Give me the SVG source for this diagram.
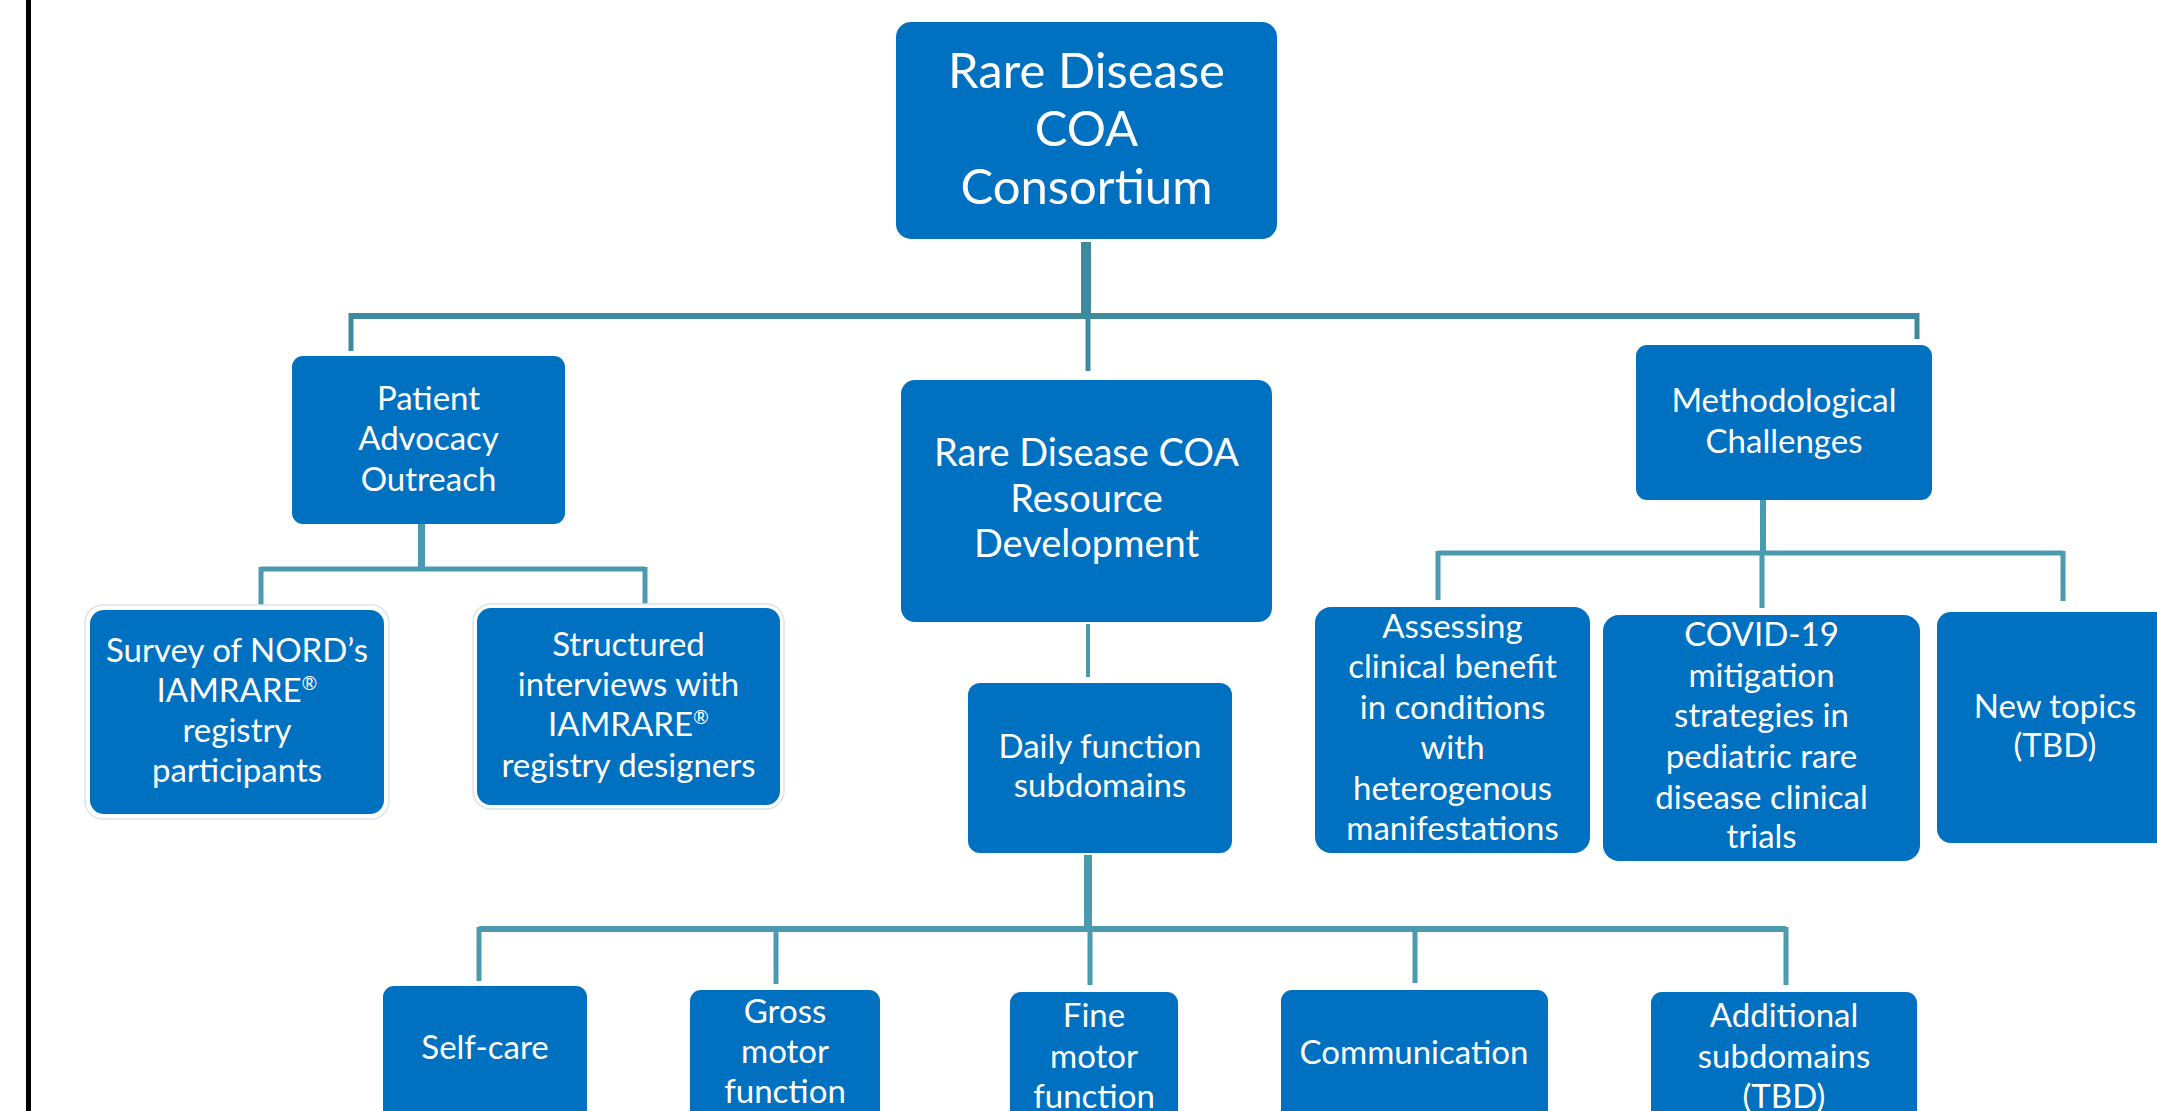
<svg xmlns="http://www.w3.org/2000/svg" width="2157" height="1111" viewBox="0 0 2157 1111">
<style>
.n{fill:#0070C0}
.g{fill:none;stroke:#DCE3EA;stroke-width:1.5}
.t{font-family:Lato,"Open Sans","Liberation Sans",sans-serif;fill:#FFFFFF;text-anchor:middle;font-size:33px}
.c1{stroke:#3F8A9E;fill:none}
.c2{stroke:#4A9BB0;fill:none}
.sup{font-size:19px}
</style>
<rect width="2157" height="1111" fill="#FFFFFF"/>
<line x1="28.5" y1="0" x2="28.5" y2="1111" stroke="#000000" stroke-width="5"/>
<g id="connectors">
  <line class="c1" x1="1086" y1="242" x2="1086" y2="318" stroke-width="10"/>
  <line class="c1" x1="351" y1="316" x2="1917" y2="316" stroke-width="6"/>
  <line class="c1" x1="351" y1="313" x2="351" y2="351" stroke-width="5"/>
  <line class="c1" x1="1088" y1="316" x2="1088" y2="371" stroke-width="5"/>
  <line class="c1" x1="1917" y1="313" x2="1917" y2="339" stroke-width="5"/>
  <line class="c2" x1="421.5" y1="524" x2="421.5" y2="571" stroke-width="7"/>
  <line class="c2" x1="261" y1="569" x2="645" y2="569" stroke-width="5"/>
  <line class="c2" x1="261" y1="567" x2="261" y2="605" stroke-width="5"/>
  <line class="c2" x1="645" y1="567" x2="645" y2="604" stroke-width="5"/>
  <line class="c2" x1="1088" y1="624" x2="1088" y2="677" stroke-width="4"/>
  <line class="c2" x1="1088" y1="855" x2="1088" y2="931" stroke-width="8"/>
  <line class="c2" x1="479" y1="929" x2="1786" y2="929" stroke-width="6"/>
  <line class="c2" x1="479" y1="927" x2="479" y2="981" stroke-width="5"/>
  <line class="c2" x1="776" y1="927" x2="776" y2="984" stroke-width="5"/>
  <line class="c2" x1="1090" y1="927" x2="1090" y2="985" stroke-width="5"/>
  <line class="c2" x1="1415" y1="927" x2="1415" y2="983" stroke-width="5"/>
  <line class="c2" x1="1786" y1="927" x2="1786" y2="985" stroke-width="5"/>
  <line class="c2" x1="1763" y1="500" x2="1763" y2="555" stroke-width="6"/>
  <line class="c2" x1="1438" y1="553" x2="2063" y2="553" stroke-width="5"/>
  <line class="c2" x1="1438" y1="551" x2="1438" y2="600" stroke-width="5"/>
  <line class="c2" x1="1762" y1="551" x2="1762" y2="608" stroke-width="5"/>
  <line class="c2" x1="2063" y1="551" x2="2063" y2="601" stroke-width="5"/>
</g>
<g id="node-consortium">
  <rect class="n" x="896" y="22" width="381" height="217" rx="15"/>
  <text class="t" style="font-size:49px"><tspan x="1086.5" y="88">Rare Disease</tspan><tspan x="1086.5" y="146">COA</tspan><tspan x="1086.5" y="204">Consortium</tspan></text>
</g>
<g id="node-patient">
  <rect class="n" x="292" y="356" width="273" height="168" rx="11"/>
  <text class="t"><tspan x="428.5" y="410">Patient</tspan><tspan x="428.5" y="450">Advocacy</tspan><tspan x="428.5" y="491">Outreach</tspan></text>
</g>
<g id="node-resource">
  <rect class="n" x="901" y="380" width="371" height="242" rx="14"/>
  <text class="t" style="font-size:38px"><tspan x="1086.5" y="466">Rare Disease COA</tspan><tspan x="1086.5" y="512">Resource</tspan><tspan x="1086.5" y="557">Development</tspan></text>
</g>
<g id="node-methodological">
  <rect class="n" x="1636" y="345" width="296" height="155" rx="11"/>
  <text class="t"><tspan x="1784" y="412">Methodological</tspan><tspan x="1784" y="453">Challenges</tspan></text>
</g>
<g id="node-survey">
  <rect class="g" x="85" y="605" width="304" height="214" rx="18"/>
  <rect class="n" x="90" y="610" width="294" height="204" rx="14"/>
  <text class="t"><tspan x="237" y="662">Survey of NORD’s</tspan><tspan x="237" y="702">IAMRARE<tspan class="sup" dy="-12">®</tspan></tspan><tspan x="237" y="742">registry</tspan><tspan x="237" y="782">participants</tspan></text>
</g>
<g id="node-structured">
  <rect class="g" x="473" y="604" width="311" height="205" rx="18"/>
  <rect class="n" x="477" y="608" width="303" height="197" rx="14"/>
  <text class="t"><tspan x="628.5" y="656">Structured</tspan><tspan x="628.5" y="696">interviews with</tspan><tspan x="628.5" y="736">IAMRARE<tspan class="sup" dy="-12">®</tspan></tspan><tspan x="628.5" y="777">registry designers</tspan></text>
</g>
<g id="node-daily">
  <rect class="n" x="968" y="683" width="264" height="170" rx="12"/>
  <text class="t"><tspan x="1100" y="758">Daily function</tspan><tspan x="1100" y="797">subdomains</tspan></text>
</g>
<g id="node-assessing">
  <rect class="n" x="1315" y="607" width="275" height="246" rx="16"/>
  <text class="t"><tspan x="1452.5" y="638">Assessing</tspan><tspan x="1452.5" y="678">clinical benefit</tspan><tspan x="1452.5" y="719">in conditions</tspan><tspan x="1452.5" y="759">with</tspan><tspan x="1452.5" y="800">heterogenous</tspan><tspan x="1452.5" y="840">manifestations</tspan></text>
</g>
<g id="node-covid">
  <rect class="n" x="1603" y="615" width="317" height="246" rx="16"/>
  <text class="t"><tspan x="1761.5" y="646">COVID-19</tspan><tspan x="1761.5" y="687">mitigation</tspan><tspan x="1761.5" y="727">strategies in</tspan><tspan x="1761.5" y="768">pediatric rare</tspan><tspan x="1761.5" y="809">disease clinical</tspan><tspan x="1761.5" y="848">trials</tspan></text>
</g>
<g id="node-newtopics">
  <rect class="n" x="1937" y="612" width="238" height="231" rx="14"/>
  <text class="t"><tspan x="2055" y="718">New topics</tspan><tspan x="2055" y="757">(TBD)</tspan></text>
</g>
<g id="node-selfcare">
  <rect class="n" x="383" y="986" width="204" height="150" rx="11"/>
  <text class="t"><tspan x="485" y="1059">Self-care</tspan></text>
</g>
<g id="node-gross">
  <rect class="n" x="690" y="990" width="190" height="150" rx="11"/>
  <text class="t"><tspan x="785" y="1023">Gross</tspan><tspan x="785" y="1063">motor</tspan><tspan x="785" y="1103">function</tspan></text>
</g>
<g id="node-fine">
  <rect class="n" x="1010" y="992" width="168" height="150" rx="11"/>
  <text class="t"><tspan x="1094" y="1027">Fine</tspan><tspan x="1094" y="1068">motor</tspan><tspan x="1094" y="1108">function</tspan></text>
</g>
<g id="node-communication">
  <rect class="n" x="1281" y="990" width="267" height="150" rx="11"/>
  <text class="t"><tspan x="1414" y="1064">Communication</tspan></text>
</g>
<g id="node-additional">
  <rect class="n" x="1651" y="992" width="266" height="150" rx="11"/>
  <text class="t"><tspan x="1784" y="1027">Additional</tspan><tspan x="1784" y="1068">subdomains</tspan><tspan x="1784" y="1108">(TBD)</tspan></text>
</g>
</svg>
